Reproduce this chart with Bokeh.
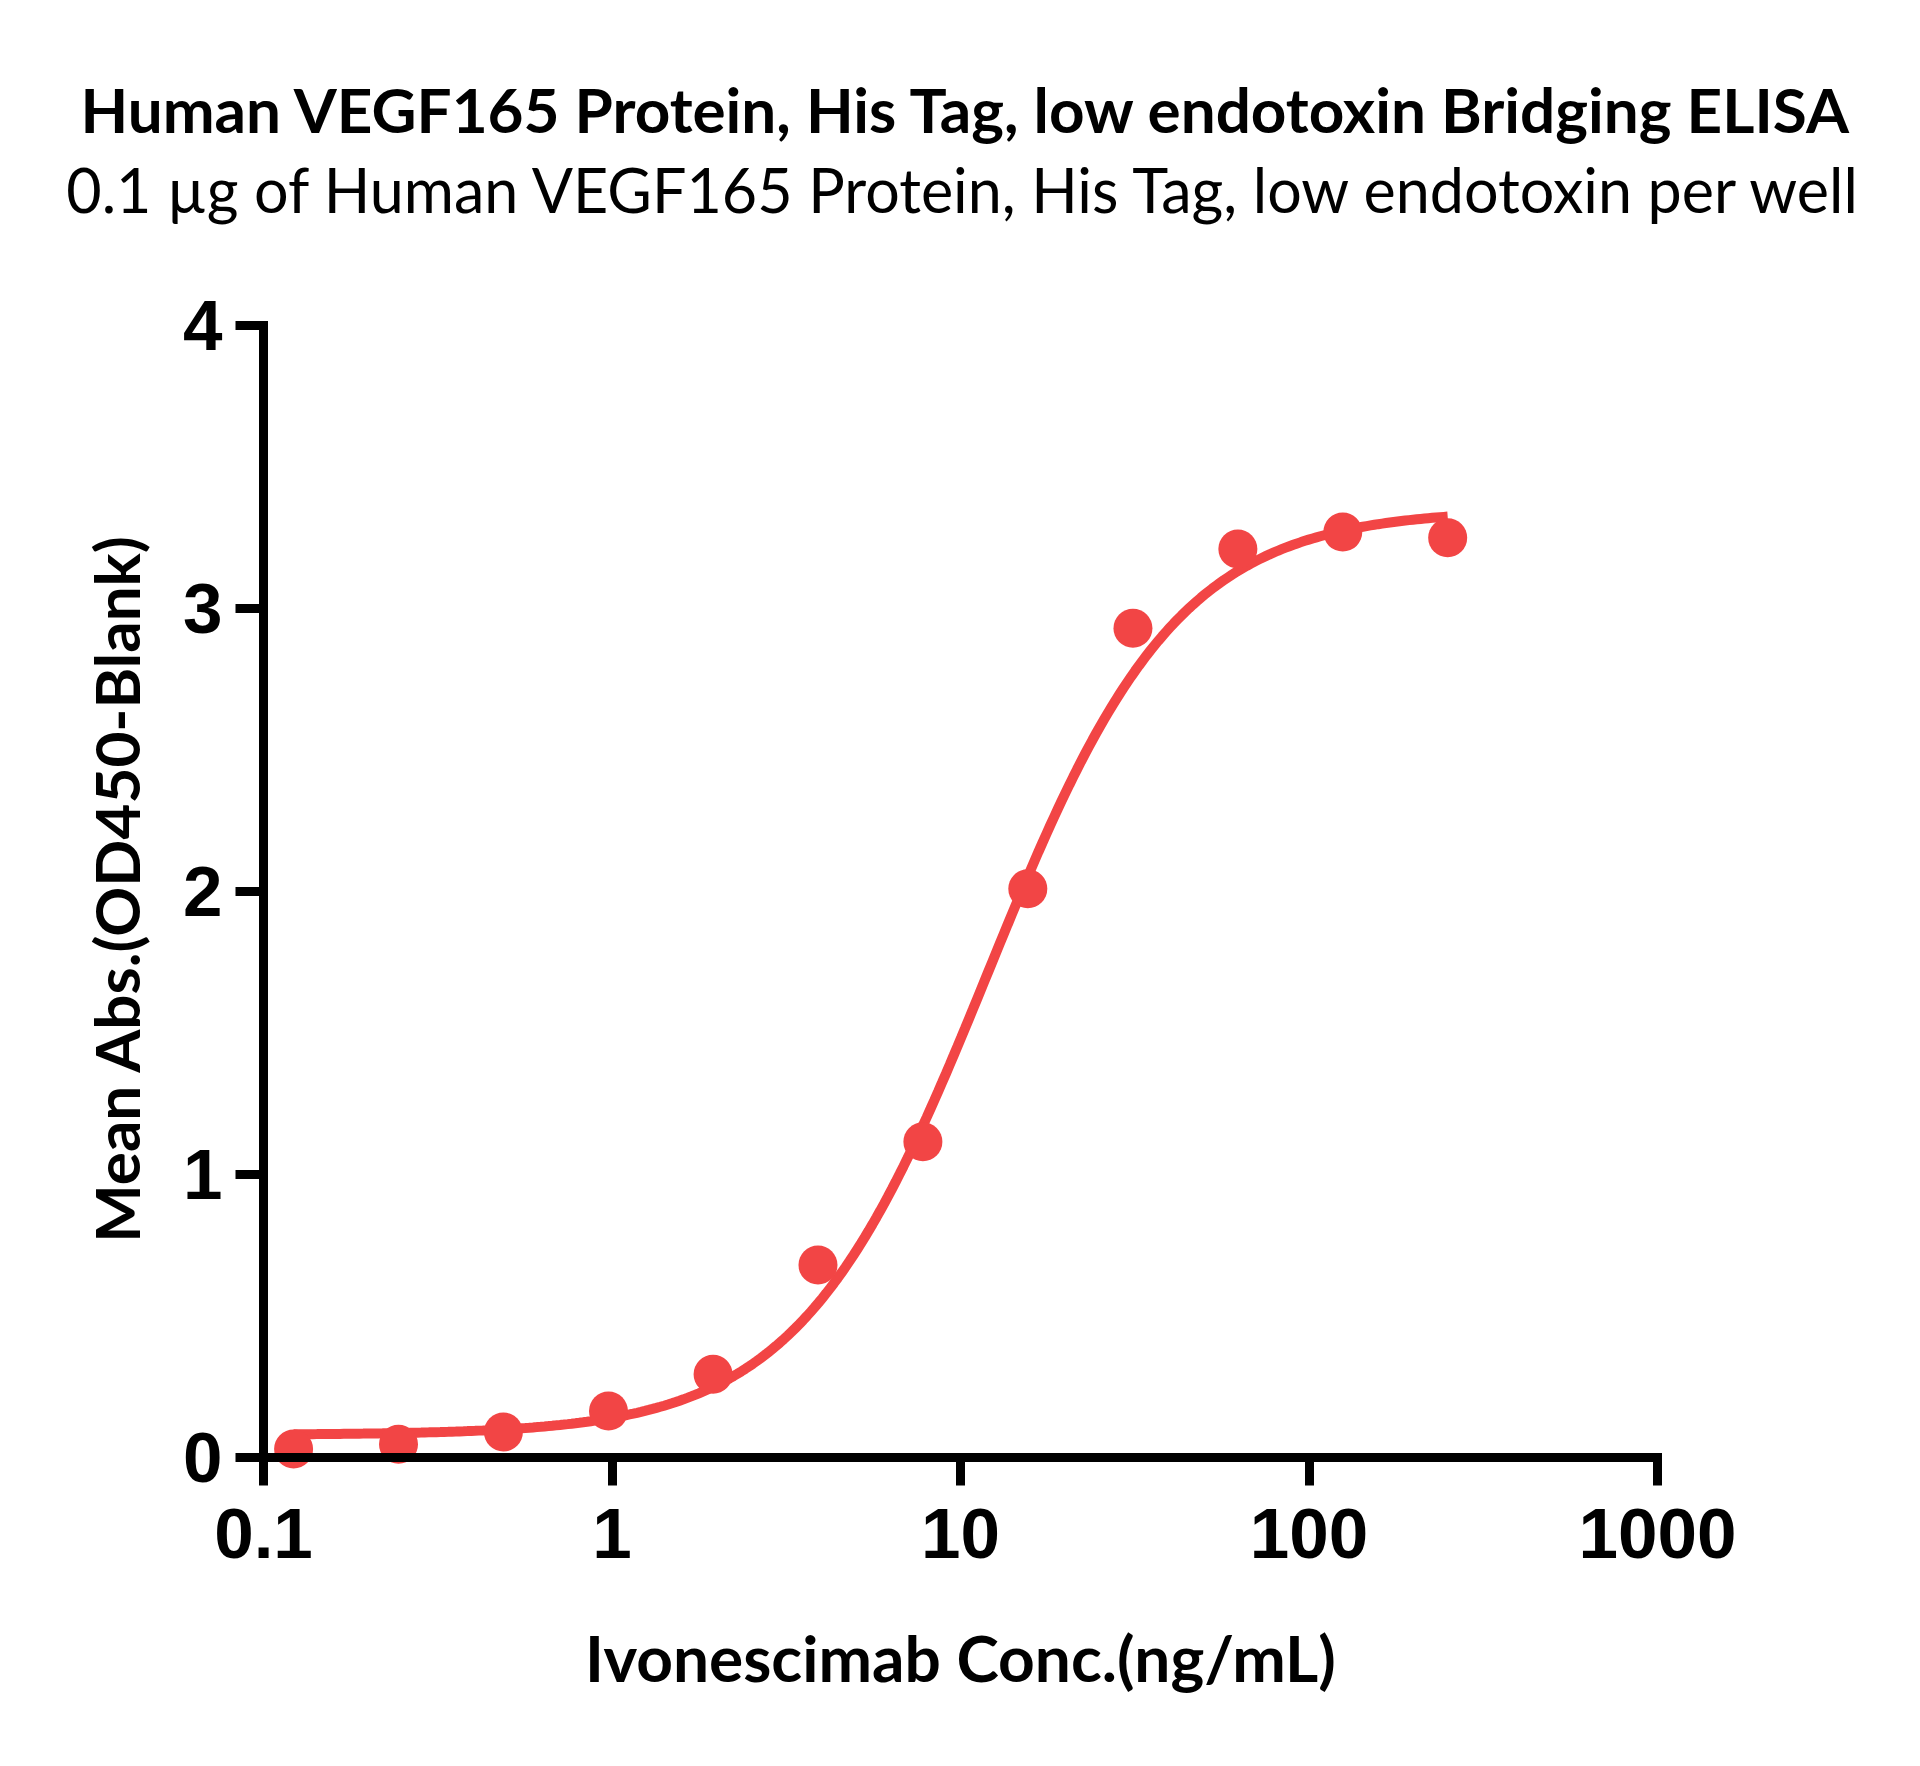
import math
import numpy as np
from bokeh.plotting import figure
from bokeh.models import Range1d, FixedTicker, CustomJSTickFormatter, Label
from bokeh.embed import file_html
from bokeh.resources import INLINE

# ---- data ----
conc = [0.122, 0.244, 0.488, 0.977, 1.95, 3.9, 7.8, 15.6, 31.25, 62.5, 125, 250]
mean_abs = [0.03, 0.047, 0.09, 0.164, 0.294, 0.68, 1.116, 2.01, 2.93, 3.21, 3.27, 3.25]

# four-parameter logistic fit shown in the chart (parameters)
fit_bottom = 0.08
fit_top = 3.35
fit_ec50 = 12.0
fit_hill = 1.6

x_ticks = [0.1, 1, 10, 100, 1000]
y_ticks = [0, 1, 2, 3, 4]

title = "Human VEGF165 Protein, His Tag, low endotoxin Bridging ELISA"
subtitle = "0.1 \u00b5g of Human VEGF165 Protein, His Tag, low endotoxin per well"
x_title = "Ivonescimab Conc.(ng/mL)"
y_title = "Mean Abs.(OD450-Blank)"

RED = "#F24545"

# ---- layout (pixel geometry of the reference) ----
W, H = 1920, 1766
AX_X0 = 263.0      # pixel of x = 0.1
DEC = 348.5        # pixels per decade
AX_Y0 = 1457.0     # pixel of y = 0
UNIT = 283.0       # pixels per y unit


def px_x(px):
    return 10 ** (-1 + (px - AX_X0) / DEC)


def px_y(py):
    return (AX_Y0 - py) / UNIT


p = figure(width=W, height=H, x_axis_type="log",
           x_range=Range1d(px_x(0), px_x(W)), y_range=Range1d(px_y(H), px_y(0)),
           output_backend="svg", toolbar_location=None,
           min_border_left=0, min_border_right=0,
           min_border_top=0, min_border_bottom=0)
p.outline_line_color = None
p.xgrid.visible = False
p.ygrid.visible = False
p.background_fill_color = "white"
p.border_fill_color = "white"

# curve
xc = np.logspace(math.log10(conc[0]), math.log10(conc[-1]), 300)
yc = fit_bottom + (fit_top - fit_bottom) / (1 + (fit_ec50 / xc) ** fit_hill)
p.line(xc, yc, line_color=RED, line_width=10)
p.scatter(conc, mean_abs, size=39, fill_color=RED, line_color=None)

for ax in (p.xaxis[0], p.yaxis[0]):
    ax.axis_line_width = 9
    ax.axis_line_cap = "square"
    ax.major_tick_line_width = 9
    ax.major_tick_out = 28
    ax.major_tick_in = 0
    ax.minor_tick_line_color = None
    ax.major_label_text_font = "Liberation Sans"
    ax.major_label_text_font_style = "bold"
    ax.major_label_text_font_size = "71px"
    ax.major_label_text_color = "black"

xa = p.xaxis[0]
xa.fixed_location = 0
xa.bounds = (x_ticks[0], x_ticks[-1])
xa.ticker = FixedTicker(ticks=x_ticks, minor_ticks=[])
xa.formatter = CustomJSTickFormatter(code="return tick.toString()")
xa.major_label_standoff = 23

ya = p.yaxis[0]
ya.fixed_location = x_ticks[0]
ya.bounds = (y_ticks[0], y_ticks[-1])
ya.ticker = FixedTicker(ticks=y_ticks, minor_ticks=[])
ya.major_label_standoff = 13

FONT = "Lato"
p.add_layout(Label(x=px_x(967), y=px_y(108), text=title, text_font=FONT,
                   text_font_style="bold", text_font_size="62px", text_color="black",
                   text_align="center", text_baseline="alphabetic"))
p.add_layout(Label(x=px_x(966), y=px_y(189), text=subtitle, text_font=FONT,
                   text_font_size="61px", text_color="black",
                   text_align="center", text_baseline="alphabetic"))
p.add_layout(Label(x=px_x(960), y=px_y(1657), text=x_title, text_font=FONT,
                   text_font_style="bold", text_font_size="64px", text_color="black",
                   text_align="center", text_baseline="alphabetic"))
p.add_layout(Label(x=px_x(115), y=px_y(888), text=y_title, text_font=FONT,
                   text_font_style="bold", text_font_size="62px", text_color="black",
                   angle=math.pi / 2,
                   text_align="center", text_baseline="alphabetic"))

open("out.html", "w").write(file_html(p, INLINE))
